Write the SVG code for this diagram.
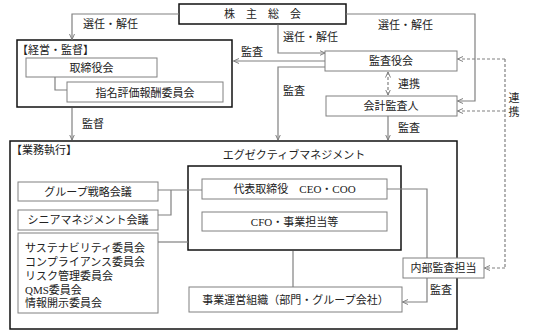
<svg xmlns="http://www.w3.org/2000/svg" width="533" height="335" viewBox="0 0 533 335">
<style>
text{font-family:"Liberation Serif","Noto Sans CJK JP",serif;font-size:11px;fill:#222}
.c{text-anchor:middle}
.thick{fill:#fff;stroke:#111;stroke-width:1.5}
.open{fill:none}
.box{fill:#fff;stroke:#808080;stroke-width:1}
.ln{fill:none;stroke:#808080;stroke-width:1.2}
.ar{marker-end:url(#ah)}
.dash{fill:none;stroke:#808080;stroke-width:1.2;stroke-dasharray:3 2}
</style>
<defs>
<marker id="ah" viewBox="0 0 6 6" refX="5.5" refY="3" markerWidth="6" markerHeight="6" markerUnits="userSpaceOnUse" orient="auto">
<path d="M0,0.5 L5.5,3 L0,5.5" fill="none" stroke="#808080" stroke-width="1"/>
</marker>
<marker id="as" viewBox="0 0 6 6" refX="5.5" refY="3" markerWidth="6" markerHeight="6" markerUnits="userSpaceOnUse" orient="auto-start-reverse">
<path d="M0,0.5 L5.5,3 L0,5.5" fill="none" stroke="#808080" stroke-width="1"/>
</marker>
</defs>
<rect width="533" height="335" fill="#fff"/>

<g id="shareholders">
<rect class="thick" x="179" y="4" width="167" height="20"/>
<text x="262.5" y="18" class="c">株　主　総　会</text>
</g>

<g id="management">
<rect class="thick" x="17" y="40" width="215" height="67"/>
<text x="17" y="54">【経営・監督】</text>
</g>
<g id="board">
<rect class="box" x="26" y="58" width="131" height="19"/>
<text x="91.5" y="71.5" class="c">取締役会</text>
</g>
<g id="nomination">
<rect class="box" x="67" y="82" width="156" height="20"/>
<text x="145" y="96.5" class="c">指名評価報酬委員会</text>
</g>

<g id="auditboard">
<rect class="box" x="325" y="51" width="132" height="20"/>
<text x="391" y="65" class="c">監査役会</text>
</g>
<g id="accountant">
<rect class="box" x="326" y="96" width="131" height="20"/>
<text x="391" y="110" class="c">会計監査人</text>
</g>

<g id="execution">
<rect class="thick open" x="10" y="141" width="447" height="188"/>
<text x="11" y="154">【業務執行】</text>
<text x="294" y="159" class="c">エグゼクティブマネジメント</text>
</g>
<g id="executive">
<rect class="thick" x="188" y="166" width="213" height="84"/>
</g>
<g id="ceo">
<rect class="box" x="202" y="179" width="185" height="20"/>
<text x="294.5" y="193" class="c">代表取締役　CEO・COO</text>
</g>
<g id="cfo">
<rect class="box" x="202" y="212" width="185" height="19"/>
<text x="294.5" y="225.5" class="c">CFO・事業担当等</text>
</g>
<g id="groupstrategy">
<rect class="box" x="18" y="182" width="140" height="19"/>
<text x="88" y="195.5" class="c">グループ戦略会議</text>
</g>
<g id="senior">
<rect class="box" x="18" y="210" width="140" height="20"/>
<text x="88" y="224" class="c">シニアマネジメント会議</text>
</g>
<g id="committees">
<rect class="box" x="18" y="233" width="140" height="80"/>
<text x="25" y="252">サステナビリティ委員会</text>
<text x="25" y="266">コンプライアンス委員会</text>
<text x="25" y="280">リスク管理委員会</text>
<text x="25" y="294">QMS委員会</text>
<text x="25" y="307">情報開示委員会</text>
</g>
<g id="operations">
<rect class="box" x="189" y="287" width="213" height="25"/>
<text x="295.5" y="303.5" class="c">事業運営組織（部門・グループ会社）</text>
</g>
<g id="internalaudit">
<rect class="box" x="403" y="258" width="81" height="20"/>
<text x="443.5" y="272" class="c">内部監査担当</text>
</g>

<g id="connectors">
<path class="ln ar" d="M179,14 H72 V39.5"/>
<path class="ln ar" d="M346,14 H475 V101 H457.5"/>
<path class="ln ar" d="M278,24.5 V53 H325"/>
<path class="ln ar" d="M325,61 H233.5"/>
<path class="ln ar" d="M325,67 H278 V140"/>
<path class="dash" d="M388,72 V95" marker-start="url(#as)" marker-end="url(#as)"/>
<path class="ln ar" d="M388,116 V140"/>
<path class="ln ar" d="M72,108 V140"/>
<path class="ln" d="M55,77 V90 H67"/>
<path class="ln" d="M158,190 H202"/>
<path class="ln" d="M158,215 H171 V190"/>
<path class="ln" d="M158,242 H188"/>
<path class="ln" d="M387,189 H427 V258"/>
<path class="ln ar" d="M427,278 V302 H402.5"/>
<path class="ln" d="M293,251 V287"/>
<path class="dash" d="M505,59 V268"/>
<path class="dash ar" d="M505,59 H457.5"/>
<path class="dash ar" d="M505,111 H457.5"/>
<path class="dash ar" d="M505,268 H484.5"/>
<text x="83" y="28">選任・解任</text>
<text x="283" y="41">選任・解任</text>
<text x="378" y="29">選任・解任</text>
<text x="241" y="56">監査</text>
<text x="283" y="95">監査</text>
<text x="398" y="88">連携</text>
<text x="398" y="132">監査</text>
<text x="82" y="128">監督</text>
<text x="430" y="294">監査</text>
<text x="514" y="102" class="c">連</text>
<text x="514" y="116" class="c">携</text>
</g>
</svg>
